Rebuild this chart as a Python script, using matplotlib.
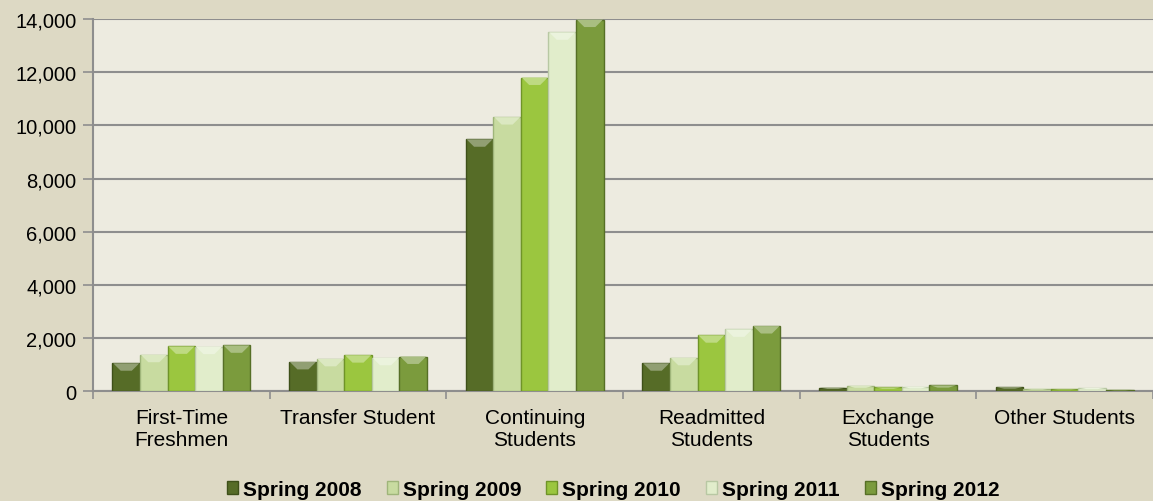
import numpy as np
import matplotlib
matplotlib.use('Agg')
import matplotlib.pyplot as plt
from matplotlib.ticker import FuncFormatter
from matplotlib.colors import to_rgb

plt.rcParams['font.family'] = ['Liberation Sans', 'DejaVu Sans']

categories = ['First-Time\nFreshmen', 'Transfer Student', 'Continuing\nStudents',
              'Readmitted\nStudents', 'Exchange\nStudents', 'Other Students']
series = ['Spring 2008', 'Spring 2009', 'Spring 2010', 'Spring 2011', 'Spring 2012']
spring_2008 = [1045, 1095, 9475, 1045, 130, 150]
spring_2009 = [1365, 1210, 10310, 1250, 200, 90]
spring_2010 = [1680, 1350, 11800, 2100, 140, 60]
spring_2011 = [1670, 1250, 13500, 2320, 165, 120]
spring_2012 = [1720, 1300, 13980, 2445, 215, 50]
values = [spring_2008, spring_2009, spring_2010, spring_2011, spring_2012]

colors = ['#566c27', '#c8dba0', '#9bc63f', '#e1edcb', '#7b9b3d']
edges = ['#3e5019', '#9fb57a', '#6f9428', '#b8c8a3', '#566f26']


def lighten(c, f):
    r, g, b = to_rgb(c)
    return (r + (1 - r) * f, g + (1 - g) * f, b + (1 - b) * f)


fig = plt.figure(figsize=(11.53, 5.02), dpi=100, facecolor='#ddd9c4')
ax = fig.add_axes([0.0807, 0.219, 0.9193, 0.741])
ax.set_facecolor('#edebe0')

x = np.arange(len(categories))
w = 0.156
for i, (name, vals) in enumerate(zip(series, values)):
    bars = ax.bar(x + (i - 2) * w, vals, w, color=colors[i], edgecolor=edges[i],
                  linewidth=1.0, label=name, zorder=3)
    # bevel highlight on top of each bar
    for b in bars:
        x0, x1, top = b.get_x(), b.get_x() + b.get_width(), b.get_height()
        h = min(280, top * 0.4)
        d = w * 0.3
        ax.fill([x0 + 0.004, x1 - 0.004, x1 - d, x0 + d], [top, top, top - h, top - h],
                color=lighten(colors[i], 0.35), lw=0, zorder=4)

ax.set_xlim(-0.5, len(categories) - 0.5)
ax.set_ylim(0, 14000)
ax.set_yticks(np.arange(0, 14001, 2000))
ax.yaxis.set_major_formatter(FuncFormatter(lambda v, p: f'{int(v):,}'))
ax.grid(axis='y', color='#8e8e8e', linewidth=1.5, zorder=0)

ax.set_xticks(np.arange(len(categories) + 1) - 0.5)
ax.set_xticklabels([])
ax.set_xticks(x, minor=True)
ax.set_xticklabels(categories, minor=True, fontsize=15, linespacing=1.25)
ax.tick_params(axis='x', which='minor', length=0, pad=12)
ax.tick_params(axis='x', which='major', length=6, color='#8e8e8e', width=1.2)
ax.tick_params(axis='y', length=7, color='#8e8e8e', width=1.2, labelsize=14.5, pad=5)

for s in ['top', 'right']:
    ax.spines[s].set_visible(False)
for s in ['left', 'bottom']:
    ax.spines[s].set_color('#8e8e8e')
    ax.spines[s].set_linewidth(1.5)

leg = fig.legend(loc='center', bbox_to_anchor=(0.532, 0.023), ncol=5,
                 frameon=False, prop={'weight': 'bold', 'size': 15},
                 handlelength=0.53, handleheight=0.53, handletextpad=0.24,
                 columnspacing=1.2, borderpad=0)

fig.savefig('out.png', dpi=100, facecolor=fig.get_facecolor())
